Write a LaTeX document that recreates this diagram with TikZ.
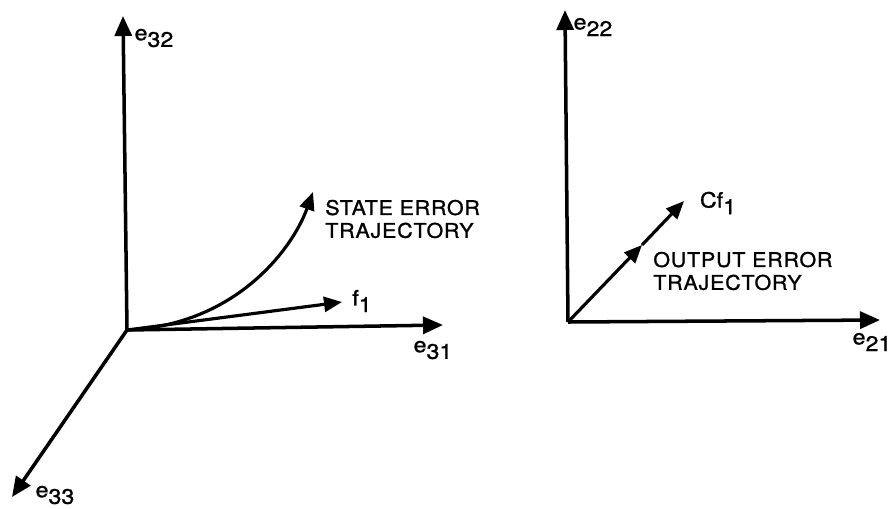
\documentclass[tikz,border=0pt]{standalone}
\usepackage{fontspec}
\setmainfont{TeX Gyre Heros}[FakeBold=1.2]
\usetikzlibrary{arrows.meta,positioning}
\newcommand{\axlbl}[2]{#1\raisebox{-0.6ex}{#2}}

\begin{document}
\begin{tikzpicture}[
  x=0.02cm,y=-0.02cm,
  axis/.style={line width=2pt,-{Triangle[length=4mm,width=3.4mm]}},
  vec/.style={line width=1.8pt,-{Triangle[length=3.6mm,width=3mm]}},
  lbl/.style={font=\fontsize{12}{14}\selectfont\addfontfeature{FakeStretch=1.1},inner sep=0pt},
  txt/.style={font=\fontsize{11.5}{13}\selectfont\addfontfeature{FakeStretch=1.06,LetterSpace=4},align=left,inner sep=0pt}]
  \useasboundingbox (0,0) rectangle (889,508);
  % state error space
  \coordinate (o3) at (127,330);
  \coordinate (e32) at (123,16);
  \coordinate (e31) at (443,325);
  \coordinate (e33) at (12,497);
  \coordinate (f1) at (342,302);
  \coordinate (traj3) at (313,192);
  \draw[axis] (o3) -- (e32);
  \draw[axis] (o3) -- (e31);
  \draw[axis] (o3) -- (e33);
  \draw[vec] (o3) -- (f1);
  \draw[vec] (o3) .. controls (235,325) and (292,250) .. (traj3);
  \node[lbl] (le32) at (154,38) {\axlbl{e}{32}};
  \node[lbl] (le31) at (433,350) {\axlbl{e}{31}};
  \node[lbl] (le33) at (55,495) {\axlbl{e}{33}};
  \node[lbl] (lf1) at (362,301) {\axlbl{f}{1}};
  \node[txt,anchor=west] (lstate) at (325,219) {STATE ERROR\\TRAJECTORY};
  % output error space
  \coordinate (o2) at (568,322);
  \coordinate (e22) at (565,10);
  \coordinate (e21) at (880,320);
  \coordinate (cfmid) at (642,245);
  \coordinate (cf1) at (684,201);
  \draw[axis] (o2) -- (e22);
  \draw[axis] (o2) -- (e21);
  \draw[vec] (o2) -- (cfmid);
  \draw[vec] (cfmid) -- (cf1);
  \node[lbl] (le22) at (593,27) {\axlbl{e}{22}};
  \node[lbl] (le21) at (872,342) {\axlbl{e}{21}};
  \node[lbl] (lcf1) at (718,203) {\axlbl{Cf}{1}};
  \node[txt,anchor=west] (loutput) at (653,271) {OUTPUT ERROR\\TRAJECTORY};
\end{tikzpicture}
\end{document}
